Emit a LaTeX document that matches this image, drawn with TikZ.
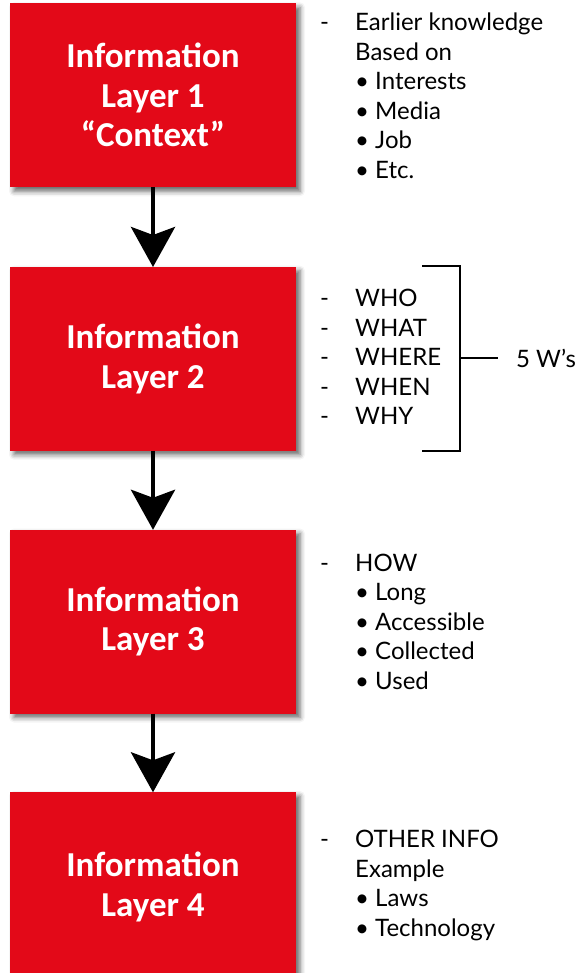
\documentclass[tikz,border=0pt]{standalone}
\usepackage{fontspec}
\setmainfont{Carlito}
\newfontfamily\listfont{Lato}
\usetikzlibrary{arrows.meta,shadows.blur}
\definecolor{boxred}{RGB}{227,9,24}
\tikzset{
  layerbox/.style={fill=boxred, draw=none, minimum width=286pt, minimum height=184pt,
    inner sep=0pt, align=center, text=white,
    font=\fontsize{35}{39.5}\selectfont\bfseries,
    blur shadow={shadow xshift=4pt, shadow yshift=-4pt, shadow blur radius=5pt, shadow opacity=60}},
  flowarrow/.style={line width=4.5pt, -{Stealth[length=40pt, width=44pt, inset=8pt]}, shorten >=-0.5pt},
  listtext/.style={anchor=north west, inner sep=0pt, align=left,
    font=\listfont\fontsize{24}{29.5}\selectfont},
  dashtext/.style={anchor=north west, inner sep=0pt, align=left,
    font=\listfont\fontsize{24}{29.5}\selectfont},
  bracketline/.style={line width=2pt}
}
\begin{document}
\begin{tikzpicture}[x=1pt, y=-1pt]
\useasboundingbox (0,0) rectangle (580,973);
\begin{scope}
\clip (0,0) rectangle (580,973);
\node[layerbox] (b1) at (153,95.3) {Information\\Layer 1\\“Context”};
\node[layerbox] (b2) at (153,358.7) {Information\\Layer 2};
\node[layerbox] (b3) at (153,621.5) {Information\\Layer 3};
\node[layerbox, minimum height=190pt] (b4) at (153,887) {Information\\Layer 4};
\end{scope}
\draw[flowarrow] (b1.south) -- (b2.north);
\draw[flowarrow] (b2.south) -- (b3.north);
\draw[flowarrow] (b3.south) -- (b4.north);
% list 1
\node[dashtext] (d1) at (320,{30.7-20.65}) {\strut-};
\node[listtext] (l1) at (355,{30.7-20.65}) {\strut Earlier knowledge\\Based on\\• Interests\\• Media\\• Job\\• Etc.};
% list 2
\node[dashtext] (d2) at (320,{306.7-20.65}) {\strut-\\-\\-\\-\\-};
\node[listtext] (l2) at (355,{306.7-20.65}) {\strut WHO\\WHAT\\WHERE\\WHEN\\WHY};
\coordinate (bt) at (422,266);
\coordinate (btr) at (460,266);
\coordinate (bbr) at (460,450.5);
\coordinate (bb) at (422,450.5);
\coordinate (bm) at (460,358);
\coordinate (bme) at (498,358);
\node[anchor=base west, inner sep=0pt, font=\listfont\fontsize{24}{29.5}\selectfont] (w5) at (516,367) {5 W’s};
\draw[bracketline] (bt) -- (btr) -- (bbr) -- (bb);
\draw[bracketline] (bm) -- (bme);
% list 3
\node[dashtext] (d3) at (320,{571-20.65}) {\strut-};
\node[listtext] (l3) at (355,{571-20.65}) {\strut HOW\\• Long\\• Accessible\\• Collected\\• Used};
% list 4
\node[dashtext] (d4) at (320,{847.3-20.65}) {\strut-};
\node[listtext] (l4) at (355,{847.3-20.65}) {\strut OTHER INFO\\Example\\• Laws\\• Technology};
\end{tikzpicture}
\end{document}
